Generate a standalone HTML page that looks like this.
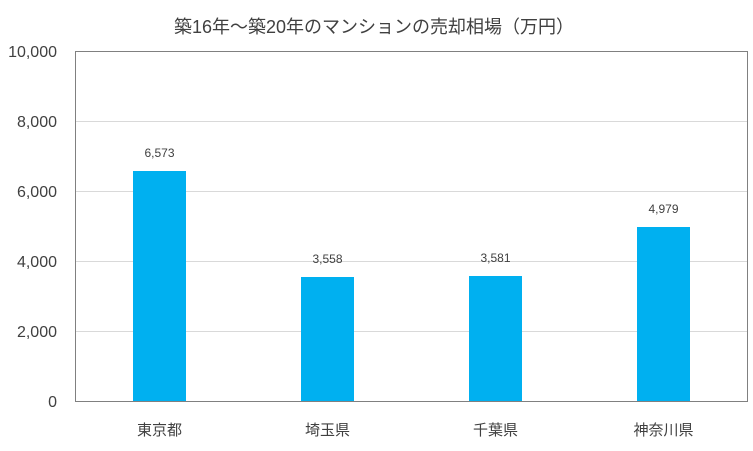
<!DOCTYPE html>
<html><head><meta charset="utf-8"><style>
html,body{margin:0;padding:0;background:#fff;}
svg text{font-family:"Liberation Sans","Noto Sans CJK JP",sans-serif;fill:#404040;}
</style></head><body>
<svg width="753" height="446" xmlns="http://www.w3.org/2000/svg">
<rect width="753" height="446" fill="#fff"/>
<text x="374" y="33" font-size="18" text-anchor="middle" fill="#595959">築16年～築20年のマンションの売却相場（万円）</text>
<g stroke="#d9d9d9" stroke-width="1">
<line x1="75.5" x2="747.5" y1="121.5" y2="121.5"/>
<line x1="75.5" x2="747.5" y1="191.5" y2="191.5"/>
<line x1="75.5" x2="747.5" y1="261.5" y2="261.5"/>
<line x1="75.5" x2="747.5" y1="331.5" y2="331.5"/>
</g>
<g fill="#00b0f0">
<rect x="133" y="171" width="53" height="230.5"/>
<rect x="301" y="277" width="53" height="124.5"/>
<rect x="469" y="276" width="53" height="125.5"/>
<rect x="637" y="227" width="53" height="174.5"/>
</g>
<rect x="75.5" y="51.5" width="672" height="350" fill="none" stroke="#808080" stroke-width="1"/>
<g font-size="16" text-anchor="end" fill="#595959">
<text x="57" y="57">10,000</text>
<text x="57" y="127">8,000</text>
<text x="57" y="197">6,000</text>
<text x="57" y="267">4,000</text>
<text x="57" y="337">2,000</text>
<text x="57" y="407">0</text>
</g>
<g font-size="12" text-anchor="middle">
<text x="159.5" y="157">6,573</text>
<text x="327.5" y="263">3,558</text>
<text x="495.5" y="262">3,581</text>
<text x="663.5" y="213">4,979</text>
</g>
<g font-size="15" text-anchor="middle">
<text x="159.5" y="435">東京都</text>
<text x="327.5" y="435">埼玉県</text>
<text x="495.5" y="435">千葉県</text>
<text x="663.5" y="435">神奈川県</text>
</g>
</svg>
</body></html>
